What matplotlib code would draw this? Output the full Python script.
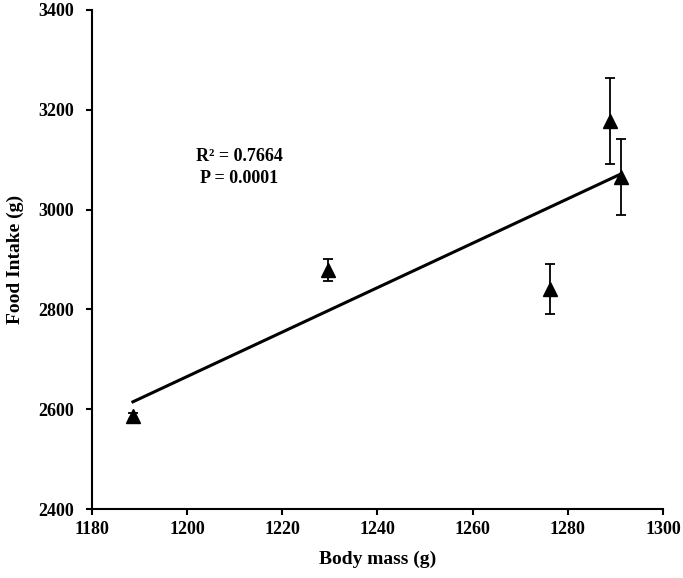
import numpy as np
import matplotlib
matplotlib.use("Agg")
import matplotlib.pyplot as plt

body_mass = [1188.6, 1229.6, 1276.2, 1288.8, 1291.1]
food_intake = [2587, 2879, 2841, 3177, 3065]
food_err = [6, 23, 50, 86, 76]
x_ticks = [1180, 1200, 1220, 1240, 1260, 1280, 1300]
y_ticks = [2400, 2600, 2800, 3000, 3200, 3400]

plt.rcParams['font.family'] = ['Liberation Serif', 'DejaVu Serif']
plt.rcParams['font.weight'] = 'bold'

fig = plt.figure(figsize=(6.83, 5.78), dpi=100)
ax = fig.add_axes([92/683, 69/578, (663-92)/683, (509-10)/578])

ax.errorbar(body_mass, food_intake, yerr=food_err, fmt='^', color='black',
            ms=9.5, ecolor='black', elinewidth=1.3, capsize=3.5, capthick=1.3, zorder=3)

coef = np.polyfit(body_mass, food_intake, 1)
xl = np.array([min(body_mass), max(body_mass)])
ax.plot(xl, np.polyval(coef, xl), color='black', lw=2.2, zorder=2)

ax.text(1211, 3106, 'R² = 0.7664', ha='center', va='center', fontsize=13, fontweight='bold')
ax.text(1211, 3062, 'P = 0.0001', ha='center', va='center', fontsize=13, fontweight='bold')

ax.set_xlim(1180, 1300)
ax.set_ylim(2400, 3400)
ax.set_xticks(x_ticks)
ax.set_yticks(y_ticks)
ax.spines['top'].set_visible(False)
ax.spines['right'].set_visible(False)
for s in ['left', 'bottom']:
    ax.spines[s].set_linewidth(1.5)
ax.tick_params(direction='out', length=4, width=1.5, labelsize=13)
ax.tick_params(axis='x', pad=5)
ax.tick_params(axis='y', pad=9)
for lab in ax.get_xticklabels() + ax.get_yticklabels():
    lab.set_fontweight('bold')
ax.set_xlabel('Body mass (g)', fontsize=14, fontweight='bold', labelpad=9)
ax.set_ylabel('Food Intake (g)', fontsize=14, fontweight='bold', labelpad=10)

fig.savefig('out.png', dpi=100)
